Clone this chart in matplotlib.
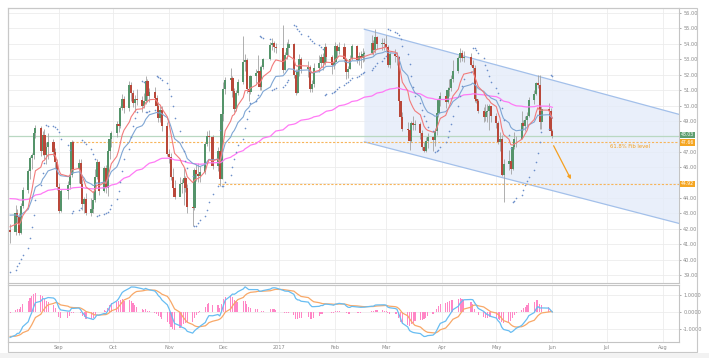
import numpy as np
import pandas as pd
import matplotlib
matplotlib.use("Agg")
import matplotlib.pyplot as plt
import matplotlib.dates as mdates
from matplotlib.patches import Rectangle, Polygon

# ---- daily OHLC (Aug 2016 - Jun 2017) ----
holidays = ["2016-09-05", "2016-11-24", "2016-12-26", "2017-01-02",
            "2017-01-16", "2017-02-20", "2017-04-14", "2017-05-29"]
dates = pd.bdate_range("2016-08-05", "2017-06-01")
dates = dates[~dates.isin(pd.to_datetime(holidays))]

first_open = 41.93
closes = [
    # Aug
    41.80, 43.02, 42.77, 41.71, 43.49, 44.49, 45.74, 46.58, 46.79, 48.22, 48.52, 47.05, 48.10, 46.77, 47.33, 47.64, 46.98, 46.35, 44.70,
    # Sep
    43.16, 44.44, 44.83, 45.50, 47.62, 45.88, 46.29, 44.90, 43.58, 43.91, 43.03, 43.30, 43.85, 45.34, 46.32, 44.48, 45.93, 44.67, 47.05, 47.83, 48.24,
    # Oct
    48.81, 48.69, 49.83, 50.44, 49.81, 51.35, 50.79, 50.18, 50.44, 50.35, 49.94, 50.29, 51.60, 50.63, 50.85, 50.52, 49.96, 49.18, 49.72, 48.70, 46.86,
    # Nov
    46.67, 45.34, 44.66, 44.07, 44.89, 44.98, 45.27, 44.66, 43.41, 43.32, 45.81, 45.57, 45.42, 45.69, 47.49, 48.03, 47.96, 46.06, 47.08, 45.23, 49.44,
    # Dec
    51.06, 51.68, 51.79, 50.93, 49.77, 50.84, 51.50, 52.83, 52.98, 51.04, 50.90, 51.90, 52.12, 52.23, 51.18, 52.49, 53.02, 53.90, 54.06, 53.77, 53.72,
    # Jan
    52.33, 53.26, 53.76, 53.99, 51.96, 50.82, 52.25, 53.01, 52.37, 52.48, 51.08, 51.37, 52.42, 52.75, 53.18, 52.75, 53.78, 53.17, 52.63, 52.81,
    # Feb
    53.88, 53.54, 53.83, 53.01, 52.17, 52.34, 53.00, 53.86, 52.93, 53.20, 53.11, 53.36, 53.40, 54.06, 53.59, 54.45, 53.99, 54.05, 54.01,
    # Mar
    53.83, 52.61, 53.33, 53.20, 53.14, 50.28, 49.28, 48.49, 48.40, 47.72, 48.86, 48.75, 48.78, 48.22, 47.34, 47.04, 47.70, 47.97, 47.73, 48.37, 49.51, 50.35, 50.60,
    # Apr
    50.24, 51.03, 51.15, 51.70, 52.24, 53.08, 53.40, 53.11, 53.18, 52.65, 52.41, 50.44, 50.27, 49.62, 49.23, 49.56, 49.62, 49.97, 49.33,
    # May
    48.84, 47.66, 47.82, 45.52, 46.22, 46.43, 45.88, 47.33, 47.83, 47.84, 48.85, 48.66, 49.07, 49.35, 50.33, 50.73, 51.47, 51.36, 48.90, 49.80, 49.66, 48.32,
    # Jun
    48.05,
]
highs = [
    42.30, 43.52, 43.30, 43.03, 43.65, 44.71, 45.90, 46.70, 46.93, 48.50, 48.75, 48.70, 48.37, 48.50, 47.63, 48.20, 47.80, 47.25, 46.53,
    44.95, 44.58, 45.10, 45.85, 47.75, 47.70, 46.50, 46.50, 45.25, 44.05, 44.30, 44.00, 44.45, 45.85, 46.55, 46.38, 46.10, 46.15, 47.25, 48.00, 48.35,
    48.99, 49.40, 49.95, 50.74, 50.60, 51.60, 51.55, 51.00, 50.70, 51.05, 50.65, 50.80, 51.93, 51.75, 51.15, 51.20, 50.70, 50.20, 50.00, 50.00, 48.90,
    47.20, 46.90, 45.95, 45.15, 45.35, 45.20, 45.95, 45.45, 44.90, 43.90, 45.95, 46.20, 46.25, 46.10, 47.65, 48.35, 48.40, 48.10, 47.30, 47.10, 49.85,
    51.50, 51.84, 52.42, 51.90, 51.15, 51.00, 51.75, 54.51, 53.32, 53.10, 51.40, 52.00, 52.38, 53.30, 52.55, 52.60, 53.10, 54.10, 54.37, 54.20, 54.09,
    55.24, 53.50, 54.10, 54.30, 54.05, 52.35, 52.40, 53.35, 53.15, 52.90, 52.60, 51.65, 52.75, 53.28, 53.35, 53.40, 54.05, 53.85, 53.25, 53.15,
    54.15, 54.00, 54.12, 54.05, 53.10, 52.55, 53.30, 54.00, 53.90, 53.45, 53.55, 53.75, 53.55, 54.60, 54.25, 54.94, 54.50, 54.40, 54.40,
    54.55, 53.90, 53.45, 53.70, 53.45, 53.20, 50.30, 49.60, 48.95, 48.50, 49.00, 49.30, 49.05, 48.95, 48.40, 47.60, 47.95, 48.20, 48.05, 48.55, 49.60, 50.50, 50.85,
    50.95, 51.20, 51.75, 51.95, 52.94, 53.20, 53.76, 53.60, 53.55, 53.40, 52.95, 52.60, 51.35, 50.45, 49.90, 50.10, 50.10, 50.10, 50.00,
    49.50, 49.00, 48.30, 48.10, 46.55, 47.10, 46.70, 47.48, 48.30, 48.05, 49.66, 49.05, 49.30, 49.60, 50.55, 51.00, 51.50, 52.00, 52.00, 49.95, 50.15, 49.85,
    48.50,
]
lows = [
    41.05, 41.60, 42.36, 41.60, 41.68, 43.33, 44.30, 45.25, 45.90, 46.50, 47.90, 46.70, 46.80, 46.50, 46.20, 46.55, 46.75, 45.95, 44.50,
    43.05, 43.10, 43.95, 44.60, 45.35, 45.60, 44.95, 44.65, 43.20, 43.05, 42.90, 42.80, 43.05, 43.75, 45.20, 44.20, 44.40, 44.35, 44.15, 46.55, 47.30,
    47.95, 48.30, 48.55, 49.70, 49.50, 49.65, 50.30, 49.90, 49.60, 50.05, 49.55, 49.85, 50.10, 50.20, 50.25, 50.25, 49.60, 48.95, 48.95, 48.35, 46.70,
    46.25, 45.15, 44.50, 43.95, 44.30, 44.35, 43.57, 44.40, 43.05, 42.20, 43.20, 45.10, 45.05, 45.05, 45.55, 47.35, 47.05, 45.90, 45.75, 44.80, 45.20,
    49.00, 50.75, 51.20, 50.55, 49.55, 49.65, 50.70, 51.40, 52.25, 50.80, 50.27, 50.75, 51.45, 51.80, 51.00, 51.00, 52.40, 52.95, 53.60, 53.45, 53.41,
    52.11, 52.30, 53.02, 53.30, 51.80, 50.71, 50.81, 51.90, 52.10, 51.85, 50.91, 50.91, 51.20, 52.20, 52.50, 52.30, 52.65, 52.85, 52.05, 52.40,
    52.65, 53.10, 53.35, 52.80, 51.75, 51.80, 52.35, 52.95, 52.75, 52.65, 52.45, 52.85, 52.90, 53.35, 53.30, 53.40, 53.65, 53.60, 53.60,
    53.55, 52.50, 52.45, 52.80, 52.60, 50.15, 48.60, 48.35, 47.85, 47.09, 47.60, 48.40, 48.40, 47.80, 47.10, 47.01, 47.00, 47.25, 47.08, 47.40, 48.10, 49.25, 50.00,
    49.85, 50.15, 50.65, 50.95, 51.50, 52.10, 52.85, 52.90, 52.85, 52.55, 52.20, 50.25, 50.15, 49.50, 48.90, 49.00, 48.90, 48.40, 48.90,
    48.55, 47.50, 47.05, 45.45, 43.76, 45.80, 45.55, 45.80, 47.20, 47.30, 47.80, 48.40, 48.35, 48.70, 49.25, 50.10, 50.70, 51.15, 48.45, 48.45, 48.55, 48.15,
    47.90,
]
opens = [first_open] + closes[:-1]

# indicator starting values read where the lines enter the chart
ema_fast_start, ema_slow_start, ema_long_start = 42.2, 43.0, 44.0
macd_fast_start, macd_slow_start, signal_start = 42.9, 44.45, -1.45
sar_start, sar_ep_start, sar_af_start = 39.19, 42.30, 0.04

# horizontal levels / channel
last_price = 48.03
fib_level, fib_start = 47.66, "2016-09-08"
support_level, support_start = 44.92, "2016-11-28"
channel_dates = ["2017-02-17", "2017-08-10"]
channel_upper = [54.95, 49.43]
channel_lower = [47.64, 42.35]
arrow_dates = ["2017-06-01", "2017-06-12"]
arrow_prices = [47.55, 45.05]

months = ["2016-09-01", "2016-10-01", "2016-11-01", "2016-12-01", "2017-01-01", "2017-02-01",
          "2017-03-01", "2017-04-01", "2017-05-01", "2017-06-01", "2017-07-01", "2017-08-01"]
month_labels = ["Sep", "Oct", "Nov", "Dec", "2017", "Feb", "Mar", "Apr", "May", "Jun", "Jul", "Aug"]


def ema(values, span, start):
    a = 2.0 / (span + 1)
    out, e = [], start
    for v in values:
        e = e + a * (v - e)
        out.append(e)
    return np.array(out)


def psar(hi, lo, sar, ep, af, step=0.02, max_af=0.2):
    up = True
    out = []
    for i in range(len(hi)):
        if i > 0:
            sar = sar + af * (ep - sar)
            if up:
                sar = min([sar, lo[i - 1]] + ([lo[i - 2]] if i > 1 else []))
            else:
                sar = max([sar, hi[i - 1]] + ([hi[i - 2]] if i > 1 else []))
        if up:
            if lo[i] < sar:
                up, sar, ep, af = False, ep, lo[i], step
            elif hi[i] > ep:
                ep, af = hi[i], min(af + step, max_af)
        else:
            if hi[i] > sar:
                up, sar, ep, af = True, ep, hi[i], step
            elif lo[i] < ep:
                ep, af = lo[i], min(af + step, max_af)
        out.append(sar)
    return np.array(out)


x = mdates.date2num(dates.to_pydatetime())
o, h, l, c = map(np.array, (opens, highs, lows, closes))

ema_fast = ema(closes, 10, ema_fast_start)
ema_slow = ema(closes, 20, ema_slow_start)
ema_long = ema(closes, 100, ema_long_start)
macd = ema(closes, 12, macd_fast_start) - ema(closes, 26, macd_slow_start)
signal = ema(macd, 9, signal_start)
hist = 1.25 * (macd - signal)
sar = psar(highs, lows, sar_start, sar_ep_start, sar_af_start)

# ---- figure ----
W, H = 709, 358
fig = plt.figure(figsize=(W / 100, H / 100), dpi=100)
fig.patch.set_facecolor("white")

def fx(px):
    return px / W

def fy(py):
    return 1 - py / H

ax = fig.add_axes([fx(8), fy(283), fx(679) - fx(8), fy(8) - fy(283)])
ax2 = fig.add_axes([fx(8), fy(342), fx(679) - fx(8), fy(285) - fy(342)], sharex=ax)

grid_c = "#ececec"
month_x = mdates.date2num(pd.to_datetime(months).to_pydatetime())
for a in (ax, ax2):
    for mx in month_x:
        a.axvline(mx, color=grid_c, lw=0.6, zorder=0)
    for s in a.spines.values():
        s.set_color("#c4c4c4")
        s.set_linewidth(0.8)
for yv in range(39, 57):
    ax.axhline(yv, color=grid_c, lw=0.6, zorder=0)
for yv in (-1, 0, 1):
    ax2.axhline(yv, color=grid_c, lw=0.6, zorder=0)

# channel
cx = mdates.date2num(pd.to_datetime(channel_dates).to_pydatetime())
ax.add_patch(Polygon([(cx[0], channel_upper[0]), (cx[1], channel_upper[1]),
                      (cx[1], channel_lower[1]), (cx[0], channel_lower[0])],
                     closed=True, facecolor="#e4ecf9", edgecolor="none", alpha=0.8, zorder=0.5))
ax.plot(cx, channel_upper, color="#a3c0ea", lw=0.9, zorder=1)
ax.plot(cx, channel_lower, color="#a3c0ea", lw=0.9, zorder=1)

# levels
ax.axhline(last_price, color="#b9d8c2", lw=0.9, zorder=1)
fs = mdates.date2num(pd.Timestamp(fib_start).to_pydatetime())
ss = mdates.date2num(pd.Timestamp(support_start).to_pydatetime())
xr = mdates.date2num(pd.Timestamp("2017-08-11").to_pydatetime())
ax.plot([fs, xr], [fib_level, fib_level], color="#f7b55a", lw=0.8, ls=(0, (2, 1.5)), zorder=1)
ax.plot([ss, xr], [support_level, support_level], color="#f7b55a", lw=0.8, ls=(0, (2, 1.5)), zorder=1)

# candles
up = c >= o
body_w = 1.2
ax.vlines(x, l, h, color="#a2a2a2", lw=0.6, zorder=2)
ax.bar(x[up], (c - o)[up], bottom=o[up], width=body_w, color="#55946a", zorder=3)
ax.bar(x[~up], (c - o)[~up], bottom=o[~up], width=body_w, color="#b9483a", zorder=3)

# moving averages + SAR
ax.plot(x, ema_long, color="#ff7af5", lw=0.9, zorder=4)
ax.plot(x, ema_slow, color="#7fa6d4", lw=0.8, zorder=4)
ax.plot(x, ema_fast, color="#f27b7b", lw=0.8, zorder=4)
ax.scatter(x, sar, s=1.4, color="#6d8fca", linewidths=0, zorder=4)

# fib arrow + text
ax_x = mdates.date2num(pd.to_datetime(arrow_dates).to_pydatetime())
ax.annotate("", xy=(ax_x[1], arrow_prices[1]), xytext=(ax_x[0], arrow_prices[0]),
            arrowprops=dict(arrowstyle="-|>", color="#f5a020", lw=0.9, mutation_scale=5), zorder=5)
ax.text(mdates.date2num(pd.Timestamp("2017-07-03").to_pydatetime()), fib_level - 0.35,
        "61.8% Fib level", color="#f5a020", fontsize=3.8, va="center", ha="left", zorder=5)

# MACD panel
ax2.bar(x, hist, width=0.6, color="#ff86c6", zorder=2)
ax2.plot(x, signal, color="#f8a868", lw=0.9, zorder=3)
ax2.plot(x, macd, color="#68bdf2", lw=0.9, zorder=3)

# axes formatting
x0 = mdates.date2num(pd.Timestamp("2016-08-03 20:00").to_pydatetime())
x1 = mdates.date2num(pd.Timestamp("2017-08-10 02:00").to_pydatetime())
ax.set_xlim(x0, x1)
ax.set_ylim(38.48, 56.33)
ax2.set_ylim(-1.79, 1.56)

# 45.00 and 48.00 sit under the price tags on the reference
price_ticks = list(range(39, 57))
ax.yaxis.tick_right()
ax.set_yticks(price_ticks)
ax.set_yticklabels(["" if v in (45, 48) else "%.2f" % v for v in price_ticks])
ax2.yaxis.tick_right()
ax2.set_yticks([-1, 0, 1])
ax2.set_yticklabels(["-1.0000", "0.0000", "1.0000"])
for a in (ax, ax2):
    a.tick_params(axis="y", labelsize=3.6, colors="#8a8a8a", length=1.5, width=0.5, pad=1.5)
ax.tick_params(axis="x", bottom=False, labelbottom=False)
ax2.set_xticks(month_x)
ax2.set_xticklabels(month_labels)
ax2.tick_params(axis="x", labelsize=3.6, colors="#8a8a8a", length=0, pad=2.5)

# price tags on the right
def tag(val, text, col, dy=0.0):
    ax.text(1.003, val + dy, text, transform=ax.get_yaxis_transform(), fontsize=3.3, color="white",
            va="center", ha="left", zorder=10, clip_on=False,
            bbox=dict(boxstyle="square,pad=0.15", facecolor=col, edgecolor="none"))

tag(last_price, "%.2f" % last_price, "#5f9e70", dy=0.06)
tag(fib_level, "%.2f" % fib_level, "#f5a623", dy=-0.06)
tag(support_level, "%.2f" % support_level, "#f5a623")

# outer frame and bottom strip
fig.add_artist(Rectangle((fx(8), fy(352)), fx(697) - fx(8), fy(8) - fy(352), transform=fig.transFigure,
                         fill=False, edgecolor="#c8c8c8", lw=0.8))
fig.add_artist(Rectangle((0, 0), 1, fy(353), transform=fig.transFigure,
                         facecolor="#f2f2f2", edgecolor="none"))

fig.savefig("out.png", dpi=100)
